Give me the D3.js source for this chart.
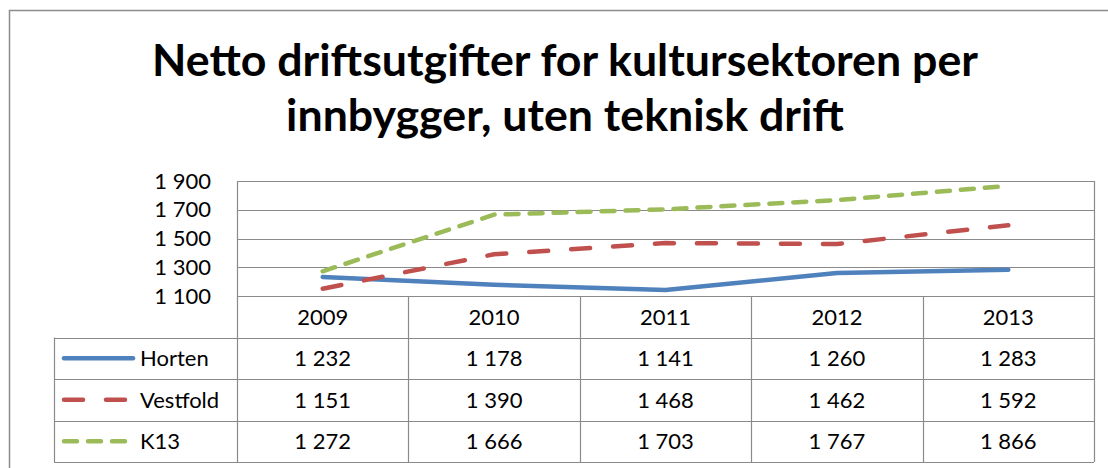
<!DOCTYPE html>
<html>
<head>
<meta charset="utf-8">
<script src="https://cdn.jsdelivr.net/npm/d3@7"></script>
<style>
  html, body { margin: 0; padding: 0; background: #fff; }
  svg { display: block; }
</style>
</head>
<body>
<div id="chart"></div>
<script>
const years = ["2009", "2010", "2011", "2012", "2013"];
const horten = [1232, 1178, 1141, 1260, 1283];
const vestfold = [1151, 1390, 1468, 1462, 1592];
const k13 = [1272, 1666, 1703, 1767, 1866];
const yTicks = [1100, 1300, 1500, 1700, 1900];
const titleLines = ["Netto driftsutgifter for kultursektoren per", "innbygger, uten teknisk drift"];

const series = [
  { name: "Horten", values: horten, color: "#4F81BD", dash: null },
  { name: "Vestfold", values: vestfold, color: "#C0504D", dash: "19,23" },
  { name: "K13", values: k13, color: "#9BBB59", dash: "13,11" }
];

const W = 1108, H = 468;
const FONT = "Lato, 'Open Sans', sans-serif";
const GRID = "#8a8a8a";
const FS = 22;

const plot = { left: 237, right: 1094, top: 181, bottom: 296 };
const rowH = 41.5;
const legendLeft = 54;

const nf = d3.formatLocale({ decimal: ",", thousands: "\u00a0", grouping: [3], currency: ["", ""] }).format(",d");

const svg = d3.select("#chart").append("svg")
  .attr("width", W)
  .attr("height", H);

// outer chart border (runs off the right and bottom edges)
svg.append("rect")
  .attr("x", 9.5).attr("y", 10.5)
  .attr("width", W + 20).attr("height", H + 20)
  .attr("fill", "#fff")
  .attr("stroke", "#8c8c8c")
  .attr("stroke-width", 1.5);

// title, fitted to the reference width
const title = svg.append("text")
  .attr("font-family", FONT)
  .attr("font-weight", "bold")
  .attr("fill", "#000")
  .attr("text-anchor", "middle");
title.selectAll("tspan")
  .data(titleLines)
  .enter().append("tspan")
  .attr("x", 565)
  .attr("y", (d, i) => 76 + i * 55)
  .text(d => d);
title.attr("font-size", 40);
const w0 = title.select("tspan").node().getComputedTextLength();
title.attr("font-size", 40 * 826 / w0);

const x = d3.scaleBand().domain(years).range([plot.left, plot.right]);
const y = d3.scaleLinear().domain([1100, 1900]).range([plot.bottom, plot.top]);

// gridlines
svg.append("g")
  .selectAll("line")
  .data(yTicks)
  .enter().append("line")
  .attr("x1", plot.left).attr("x2", plot.right)
  .attr("y1", d => Math.round(y(d)) + 0.5)
  .attr("y2", d => Math.round(y(d)) + 0.5)
  .attr("stroke", GRID)
  .attr("stroke-width", 1.2);

// y axis labels
const yAxis = svg.append("g")
  .attr("transform", `translate(${plot.left},0)`)
  .call(d3.axisLeft(y).tickValues(yTicks).tickFormat(nf).tickSize(0).tickPadding(26));
yAxis.select(".domain").remove();
yAxis.selectAll("text")
  .attr("font-family", FONT)
  .attr("font-size", FS)
  .attr("fill", "#000");

// data table grid
const tableBottom = plot.bottom + rowH * 4;
const tg = svg.append("g").attr("stroke", GRID).attr("stroke-width", 1.2);
tg.append("line")
  .attr("x1", plot.left + 0.5).attr("x2", plot.left + 0.5)
  .attr("y1", plot.top).attr("y2", tableBottom);
tg.selectAll("line.col")
  .data(years)
  .enter().append("line")
  .attr("class", "col")
  .attr("x1", d => Math.round(x(d) + x.bandwidth()) + 0.5)
  .attr("x2", d => Math.round(x(d) + x.bandwidth()) + 0.5)
  .attr("y1", (d, i) => i === years.length - 1 ? plot.top : plot.bottom)
  .attr("y2", tableBottom);
tg.selectAll("line.row")
  .data(d3.range(1, 5))
  .enter().append("line")
  .attr("class", "row")
  .attr("x1", legendLeft).attr("x2", plot.right)
  .attr("y1", d => Math.round(plot.bottom + d * rowH) + 0.5)
  .attr("y2", d => Math.round(plot.bottom + d * rowH) + 0.5);
tg.append("line")
  .attr("x1", legendLeft + 0.5).attr("x2", legendLeft + 0.5)
  .attr("y1", plot.bottom + rowH).attr("y2", tableBottom);

// year header
svg.append("g")
  .selectAll("text")
  .data(years)
  .enter().append("text")
  .attr("x", d => x(d) + x.bandwidth() / 2)
  .attr("y", plot.bottom + rowH / 2)
  .attr("dy", "0.36em")
  .attr("text-anchor", "middle")
  .attr("font-family", FONT)
  .attr("font-size", FS)
  .text(d => d);

// table rows with legend keys
const rows = svg.append("g")
  .selectAll("g")
  .data(series)
  .enter().append("g")
  .attr("transform", (d, i) => `translate(0,${plot.bottom + rowH * (i + 1.5)})`);

rows.append("line")
  .attr("x1", 64).attr("x2", 133)
  .attr("y1", 0).attr("y2", 0)
  .attr("stroke", d => d.color)
  .attr("stroke-width", 4.5)
  .attr("stroke-linecap", "round")
  .attr("stroke-dasharray", d => d.dash);

rows.append("text")
  .attr("x", 140)
  .attr("dy", "0.36em")
  .attr("font-family", FONT)
  .attr("font-size", FS)
  .text(d => d.name);

rows.selectAll("text.val")
  .data(d => d.values)
  .enter().append("text")
  .attr("class", "val")
  .attr("x", (v, i) => x(years[i]) + x.bandwidth() / 2)
  .attr("dy", "0.36em")
  .attr("text-anchor", "middle")
  .attr("font-family", FONT)
  .attr("font-size", FS)
  .text(v => nf(v));

// lines
const line = d3.line()
  .x((v, i) => x(years[i]) + x.bandwidth() / 2)
  .y(v => y(v));

svg.append("g")
  .selectAll("path")
  .data(series)
  .enter().append("path")
  .attr("d", d => line(d.values))
  .attr("fill", "none")
  .attr("stroke", d => d.color)
  .attr("stroke-width", 4.5)
  .attr("stroke-linecap", "round")
  .attr("stroke-linejoin", "round")
  .attr("stroke-dasharray", d => d.dash);
</script>
</body>
</html>
